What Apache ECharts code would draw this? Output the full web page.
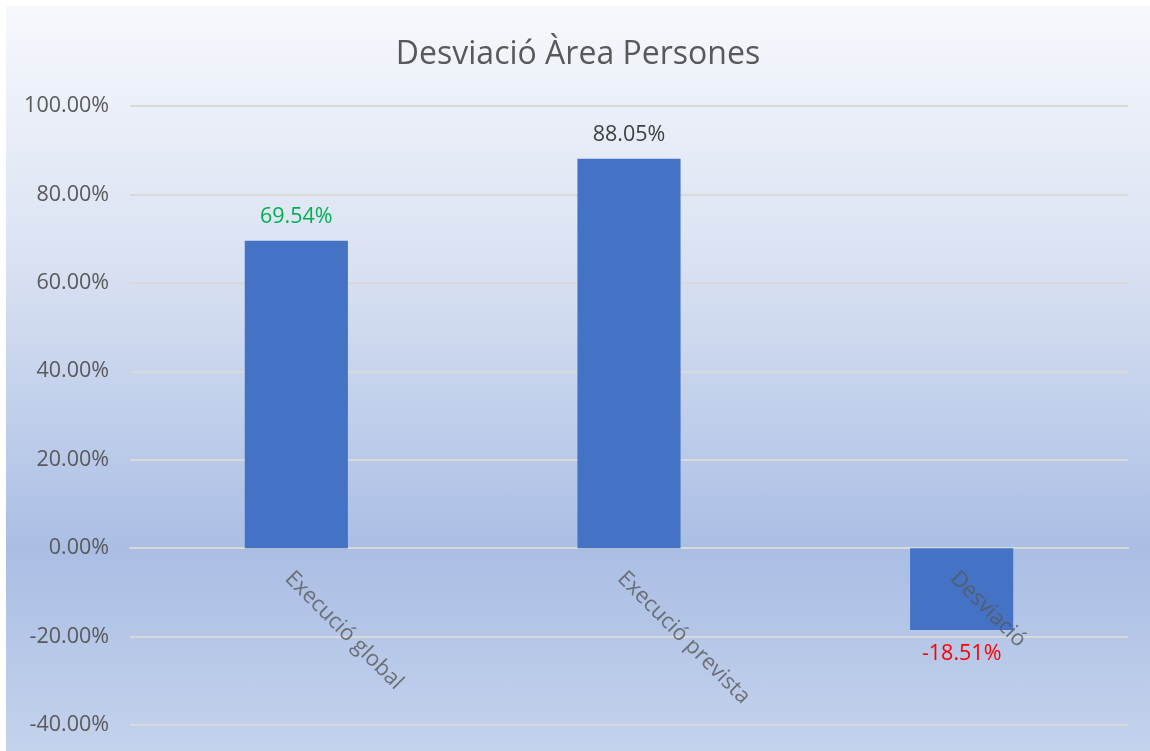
<!DOCTYPE html>
<html>
<head>
<meta charset="utf-8">
<script src="https://cdn.jsdelivr.net/npm/echarts@6/dist/echarts.min.js"></script>
<style>
    html, body { margin: 0; padding: 0; background: #fff; }
    .chart-box {
        position: absolute;
        left: 6px;
        top: 6px;
        width: 1144px;
        height: 745px;
        background: linear-gradient(to bottom, #f6f8fc 0%, #d9e1f2 35%, #aabee4 73%, #c4d2ec 100%);
    }
</style>
</head>
<body>
<div class="chart-box" id="chart"></div>
<script>
// 数据
let categories = ['Execució global', 'Execució prevista', 'Desviació'];
let values = [69.54, 88.05, -18.51];
let labelColors = ['#00b050', '#404040', '#ff0000'];
let yTicks = { min: -40, max: 100, interval: 20 };

let chart = echarts.init(document.getElementById('chart'));
let option = {
    backgroundColor: 'transparent',
    animation: false,
    title: {
        text: 'Desviació Àrea Persones',
        left: 'center',
        top: 28,
        textStyle: {
            color: '#595959',
            fontSize: 32,
            fontWeight: 'normal',
            fontFamily: 'Open Sans'
        }
    },
    grid: {
        left: 124,
        right: 22,
        top: 100,
        bottom: 26,
        outerBoundsMode: 'none',
        containLabel: false
    },
    xAxis: {
        type: 'category',
        data: categories,
        axisTick: { show: false },
        axisLine: {
            onZero: true,
            lineStyle: { color: '#d9d9d9', width: 2 }
        },
        axisLabel: { show: false }
    },
    yAxis: {
        type: 'value',
        min: yTicks.min,
        max: yTicks.max,
        interval: yTicks.interval,
        axisLine: { show: false },
        axisTick: { show: false },
        axisLabel: {
            margin: 21,
            color: '#595959',
            fontSize: 21.5,
            fontFamily: 'Open Sans',
            formatter: function (v) { return v.toFixed(2) + '%'; }
        },
        splitLine: {
            lineStyle: { color: '#d9d9d9', width: 2 }
        }
    },
    series: [{
        type: 'bar',
        barWidth: '31%',
        itemStyle: { color: '#4472c4' },
        data: values.map(function (v, i) {
            return {
                value: v,
                label: {
                    show: true,
                    position: v < 0 ? 'bottom' : 'top',
                    distance: 13,
                    color: labelColors[i],
                    fontSize: 21.5,
                    fontFamily: 'Open Sans',
                    formatter: function (p) { return p.value.toFixed(2) + '%'; }
                }
            };
        })
    }, {
        // 类目标签放在零线上（斜45度）
        type: 'scatter',
        symbolSize: 0,
        silent: true,
        z: 5,
        data: categories.map(function (c) { return [c, 0]; }),
        label: {
            show: true,
            position: [-8, 27],
            rotate: -45,
            align: 'left',
            verticalAlign: 'middle',
            color: '#595959',
            fontSize: 22,
            fontFamily: 'Open Sans',
            formatter: function (p) { return p.name || p.value[0]; }
        }
    }]
};
chart.setOption(option);
</script>
</body>
</html>
